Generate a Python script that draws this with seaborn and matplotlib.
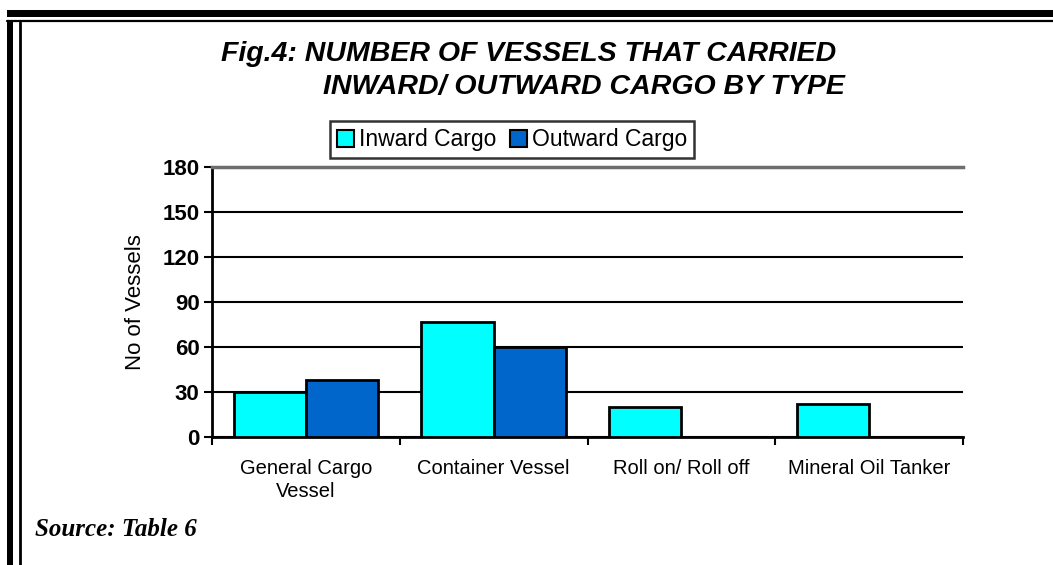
import matplotlib
matplotlib.use("Agg")
import matplotlib.pyplot as plt
from matplotlib.patches import Rectangle
from matplotlib.lines import Line2D
import seaborn as sns
import pandas as pd
import numpy as np

categories = ["General Cargo\nVessel", "Container Vessel", "Roll on/ Roll off", "Mineral Oil Tanker"]
inward = [30, 77, 20, 22]
outward = [38, 60, np.nan, np.nan]
series = ["Inward Cargo", "Outward Cargo"]
yticks = [0, 30, 60, 90, 120, 150, 180]

df = pd.DataFrame({
    "type": categories * 2,
    "count": inward + outward,
    "cargo": [series[0]] * 4 + [series[1]] * 4,
})

sns.set_theme(style="white")
plt.rcParams["font.family"] = ["Liberation Sans", "DejaVu Sans"]
plt.rcParams["text.color"] = "black"
plt.rcParams["axes.labelcolor"] = "black"
plt.rcParams["xtick.color"] = "black"
plt.rcParams["ytick.color"] = "black"

W, H = 1053, 565
fig = plt.figure(figsize=(W / 100, H / 100), dpi=100)
ax = fig.add_axes([212 / W, 1 - 437 / H, (963 - 212) / W, (437 - 167) / H])

sns.barplot(data=df, x="type", y="count", hue="cargo", order=categories,
            hue_order=series, palette=["#00FFFF", "#0066CC"], saturation=1,
            edgecolor="black", linewidth=2, width=0.77, ax=ax, legend=True,
            zorder=3)

ax.set_xlim(-0.5, 3.5)
ax.set_ylim(0, 180)
ax.set_yticks(yticks)
ax.set_yticklabels([str(v) for v in yticks], fontweight="bold", fontsize=16)
ax.set_xticks(range(4))
ax.set_xticklabels(categories, fontsize=14.5, linespacing=1.25)
ax.set_xticks([-0.5, 0.5, 1.5, 2.5, 3.5], minor=True)
ax.tick_params(axis="x", which="major", length=0, pad=16)
ax.tick_params(axis="x", which="minor", length=6, width=1.5, color="black", direction="out", bottom=True)
ax.tick_params(axis="y", length=6, width=1.5, color="black", direction="out", left=True, pad=3)
ax.set_xlabel("")
ax.set_ylabel("No of Vessels", fontsize=16, labelpad=12)

ax.yaxis.grid(True, color="black", linewidth=1.5, zorder=0)
ax.set_axisbelow(True)
for s in ["left", "bottom"]:
    ax.spines[s].set_color("black")
    ax.spines[s].set_linewidth(2)
ax.spines["right"].set_visible(False)
ax.spines["top"].set_color("#6e6e6e")
ax.spines["top"].set_linewidth(2.5)

handles, labels = ax.get_legend_handles_labels()
ax.get_legend().remove()
leg = fig.legend(handles, labels, loc="lower left",
                 bbox_to_anchor=(330 / W, 1 - 158 / H), ncol=2, fontsize=16.5,
                 frameon=True, fancybox=False, edgecolor="black",
                 handlelength=0.75, handleheight=0.75, handletextpad=0.2,
                 columnspacing=0.6, borderpad=0.3, borderaxespad=0)
leg.get_frame().set_linewidth(1.8)
for h in leg.legend_handles:
    h.set_edgecolor("black")
    h.set_linewidth(1.5)

fig.text(529 / W, 1 - 54 / H, "Fig.4: NUMBER OF VESSELS THAT CARRIED",
         ha="center", va="center", fontsize=20.5, fontweight="bold", style="italic")
fig.text(845 / W, 1 - 87 / H, "INWARD/ OUTWARD CARGO BY TYPE",
         ha="right", va="center", fontsize=20.5, fontweight="bold", style="italic")

fig.text(35 / W, 1 - 530 / H, "Source: Table 6", ha="left", va="center",
         fontsize=18, fontweight="bold", style="italic",
         family=["Liberation Serif", "DejaVu Serif"])

# page borders
fig.add_artist(Rectangle((7 / W, 1 - 17 / H), (W - 7) / W, 7 / H,
                         facecolor="black", edgecolor="none", transform=fig.transFigure))
fig.add_artist(Line2D([7 / W, 1], [1 - 20.5 / H, 1 - 20.5 / H], color="black",
                      linewidth=1.6, transform=fig.transFigure))
fig.add_artist(Rectangle((7 / W, 0), 6 / W, 1 - 22 / H,
                         facecolor="black", edgecolor="none", transform=fig.transFigure))
fig.add_artist(Line2D([19.5 / W, 19.5 / W], [0, 1 - 22 / H], color="black",
                      linewidth=2, transform=fig.transFigure))

fig.savefig("out.png", dpi=100)
